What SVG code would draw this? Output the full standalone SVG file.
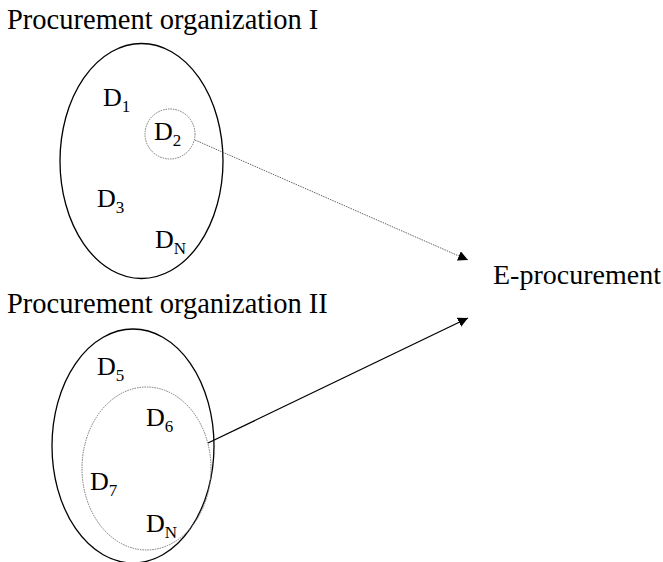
<svg xmlns="http://www.w3.org/2000/svg" width="663" height="562" viewBox="0 0 663 562">
<defs>
<marker id="arr" viewBox="0 0 10 10" refX="10" refY="5" markerWidth="10" markerHeight="10" markerUnits="userSpaceOnUse" orient="auto">
<path d="M0,0 L10,5 L0,10 z" fill="#000"/>
</marker>
<style>
text{font-family:"Liberation Serif","Times New Roman",serif;fill:#000}
.t{font-size:28.5px}
.e{font-size:28px}
.d{font-size:26px}
.s{font-size:17px}
.outer{fill:none;stroke:#000;stroke-width:1.3}
.inner{fill:none;stroke:#777;stroke-width:1;stroke-dasharray:1.5 1}
</style>
</defs>
<rect width="663" height="562" fill="#fff"/>
<g id="org1">
<text class="t" x="7" y="29">Procurement organization I</text>
<ellipse class="outer" cx="141.5" cy="161" rx="81.5" ry="117.5"/>
<text class="d" x="103" y="106">D<tspan class="s" dy="6">1</tspan></text>
<text class="d" x="97" y="207">D<tspan class="s" dy="6">3</tspan></text>
<text class="d" x="155" y="248">D<tspan class="s" dy="6">N</tspan></text>
</g>
<g id="d2">
<circle class="inner" cx="170" cy="134" r="25"/>
<text class="d" x="154" y="140">D<tspan class="s" dy="6">2</tspan></text>
</g>
<g id="org2">
<text class="t" x="7" y="313">Procurement organization II</text>
<ellipse class="outer" cx="133" cy="446" rx="81" ry="117"/>
<text class="d" x="97" y="375">D<tspan class="s" dy="6">5</tspan></text>
</g>
<g id="inner2">
<ellipse class="inner" cx="146.5" cy="468.5" rx="64.5" ry="81.5"/>
<text class="d" x="146" y="426">D<tspan class="s" dy="6">6</tspan></text>
<text class="d" x="90" y="490">D<tspan class="s" dy="6">7</tspan></text>
<text class="d" x="146" y="532">D<tspan class="s" dy="6">N</tspan></text>
</g>
<g id="eproc">
<text class="e" x="493" y="284">E-procurement</text>
</g>
<g id="connectors">
<line x1="195" y1="140" x2="468" y2="260" stroke="#666" stroke-width="1" stroke-dasharray="1.5 1" marker-end="url(#arr)"/>
<line x1="208" y1="443" x2="468" y2="318" stroke="#000" stroke-width="1.3" marker-end="url(#arr)"/>
</g>
</svg>
